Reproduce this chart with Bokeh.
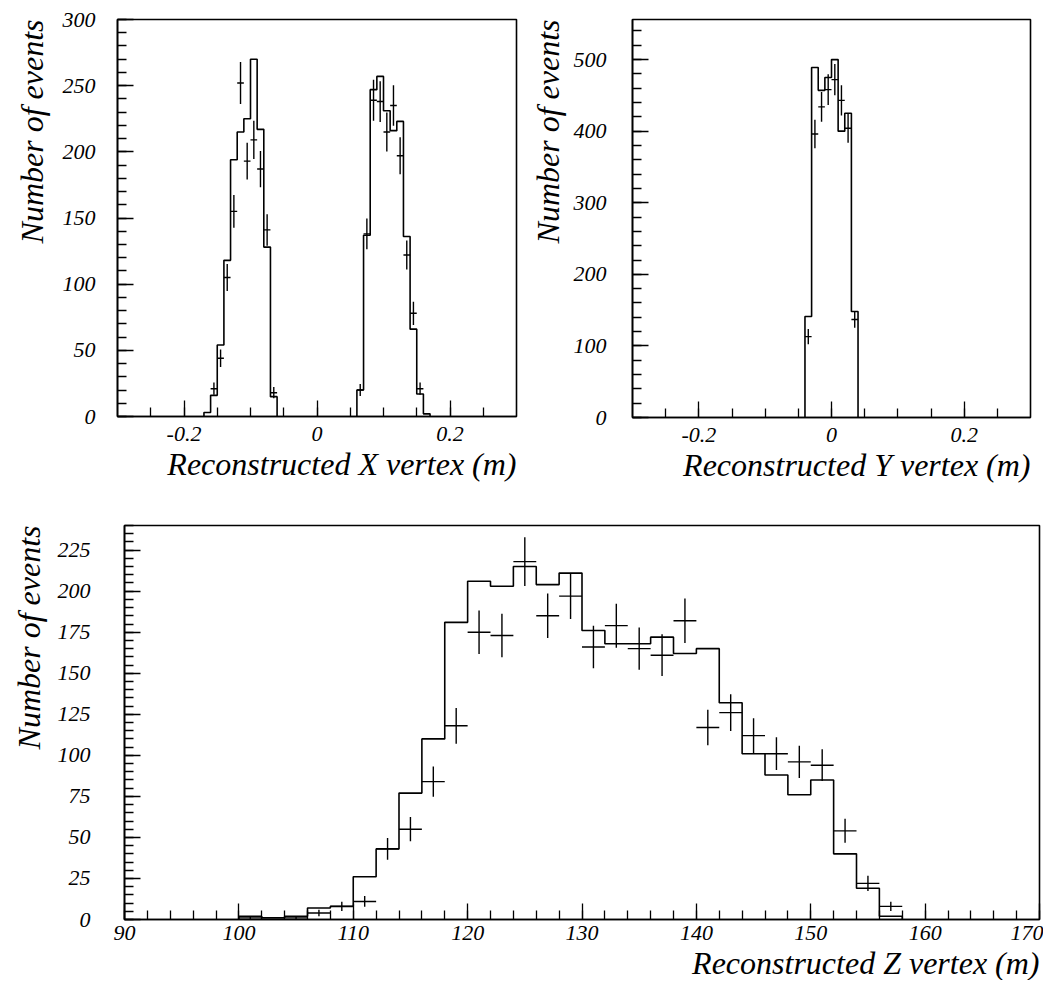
from bokeh.plotting import figure
from bokeh.layouts import column, row
from bokeh.models import SingleIntervalTicker, Title, Range1d
from bokeh.embed import file_html
from bokeh.resources import INLINE
import numpy as np

FONT = "Liberation Serif"

# ---------------- data: reconstructed X vertex (bin width 0.01 m) ----------------
x_left_centers = [-0.165, -0.155, -0.145, -0.135, -0.125, -0.115, -0.105, -0.095, -0.085, -0.075, -0.065]
x_left_mc      = [3, 16, 54, 118, 194, 215, 225, 270, 217, 128, 15]
x_left_data    = [0, 21, 44, 105, 155, 252, 193, 209, 187, 141, 18]
x_left_err     = [0, 4.6, 6.6, 10.2, 12.4, 15.9, 13.9, 14.5, 13.7, 11.9, 4.2]

x_right_centers = [0.065, 0.075, 0.085, 0.095, 0.105, 0.115, 0.125, 0.135, 0.145, 0.155, 0.165]
x_right_mc      = [20, 137, 247, 257, 231, 216, 223, 136, 66, 17, 2]
x_right_data    = [20, 138, 239, 238, 215, 235, 197, 122, 78, 21, 0]
x_right_err     = [4.5, 11.7, 15.5, 15.4, 14.7, 15.3, 14.0, 11.0, 8.8, 4.6, 0]

# ---------------- data: reconstructed Y vertex (bin width 0.01 m) ----------------
y_centers = [-0.035, -0.025, -0.015, -0.005, 0.005, 0.015, 0.025, 0.035]
y_mc      = [141, 489, 457, 475, 500, 400, 425, 148]
y_data    = [113, 396, 434, 458, 472, 443, 404, 137]
y_err     = [10.6, 19.9, 20.8, 21.4, 21.7, 21.0, 20.1, 11.7]

# ---------------- data: reconstructed Z vertex (bin width 2 m) ----------------
z_centers = [101, 103, 105, 107, 109, 111, 113, 115, 117, 119, 121, 123, 125, 127, 129,
             131, 133, 135, 137, 139, 141, 143, 145, 147, 149, 151, 153, 155, 157]
z_mc   = [2, 1, 2, 7, 8, 26, 43, 77, 110, 181, 206, 203, 215, 204, 211,
          176, 168, 168, 172, 162, 165, 132, 101, 88, 76, 85, 40, 19, 2]
z_data = [1, 0, 1, 4, 8, 11, 43, 55, 84, 118, 175, 173, 218, 185, 197,
          166, 179, 165, 161, 182, 117, 126, 112, 101, 96, 94, 54, 22, 8]
z_err  = [1, 0, 1, 2, 2.8, 3.3, 6.6, 7.4, 9.2, 10.9, 13.2, 13.2, 14.8, 13.6, 14.0,
          12.9, 13.4, 12.8, 12.7, 13.5, 10.8, 11.2, 10.6, 10.0, 9.8, 9.7, 7.3, 4.7, 2.8]

TICK_FS = "22px"
TITLE_FS = "32px"


def hist_step(p, centers, counts, width):
    c = np.asarray(centers, dtype=float)
    n = np.asarray(counts, dtype=float)
    edges = np.concatenate([c - width / 2.0, [c[-1] + width / 2.0]])
    xs = np.concatenate([[edges[0]], edges])
    ys = np.concatenate([[0.0], n, [0.0]])
    p.step(xs, ys, mode="after", line_color="black", line_width=1.6)


def crosses(p, centers, vals, errs, width):
    c = np.asarray(centers, dtype=float)
    v = np.asarray(vals, dtype=float)
    e = np.asarray(errs, dtype=float)
    m = v > 0
    c, v, e = c[m], v[m], e[m]
    p.segment(c, v - e, c, v + e, line_color="black", line_width=1.4)
    p.segment(c - width / 2.0, v, c + width / 2.0, v, line_color="black", line_width=1.4)


def make_fig(xr, yr, fw, fh, bl, bt, bb, xtick, ytick, xtitle,
             ylab_standoff, ytitle_standoff, xlab_standoff, xtitle_standoff, xoverrides=None):
    p = figure(frame_width=fw, frame_height=fh, x_range=Range1d(*xr), y_range=Range1d(*yr),
               output_backend="svg", toolbar_location=None,
               min_border_left=bl, min_border_top=bt, min_border_right=4, min_border_bottom=bb)
    p.background_fill_color = "white"
    p.border_fill_color = "white"
    p.outline_line_color = "black"
    p.outline_line_width = 1.6
    p.xgrid.visible = False
    p.ygrid.visible = False
    p.xaxis.ticker = xtick
    p.yaxis.ticker = ytick
    for ax in (p.xaxis, p.yaxis):
        ax.axis_line_color = "black"
        ax.axis_line_width = 1.6
        ax.major_tick_in = 16
        ax.major_tick_out = 0
        ax.minor_tick_in = 9
        ax.minor_tick_out = 0
        ax.major_tick_line_width = 1.3
        ax.minor_tick_line_width = 1.3
        ax.major_label_text_font = FONT
        ax.major_label_text_font_style = "italic"
        ax.major_label_text_font_size = TICK_FS
        ax.major_label_text_color = "black"
    p.xaxis.major_label_standoff = xlab_standoff
    p.yaxis.major_label_standoff = ylab_standoff
    if xoverrides:
        p.xaxis.major_label_overrides = xoverrides
    p.add_layout(Title(text=xtitle, align="right", text_font=FONT, text_font_size=TITLE_FS,
                       text_font_style="italic", text_color="black",
                       standoff=xtitle_standoff, offset=0), "below")
    p.add_layout(Title(text="Number of events", align="right", text_font=FONT,
                       text_font_size=TITLE_FS, text_font_style="italic", text_color="black",
                       standoff=ytitle_standoff, offset=0), "left")
    return p


xo = {-0.2: "-0.2", 0: "0", 0.2: "0.2"}

p1 = make_fig((-0.3, 0.3), (0, 300), 399, 397, 117, 19, 74,
              SingleIntervalTicker(interval=0.2, num_minor_ticks=4),
              SingleIntervalTicker(interval=50, num_minor_ticks=5),
              "Reconstructed X vertex (m)", 22, 20, 10, 0, xo)
hist_step(p1, x_left_centers, x_left_mc, 0.01)
hist_step(p1, x_right_centers, x_right_mc, 0.01)
crosses(p1, x_left_centers, x_left_data, x_left_err, 0.01)
crosses(p1, x_right_centers, x_right_data, x_right_err, 0.01)

p2 = make_fig((-0.3, 0.3), (0, 556), 398, 398, 112, 15, 77,
              SingleIntervalTicker(interval=0.2, num_minor_ticks=4),
              SingleIntervalTicker(interval=100, num_minor_ticks=5),
              "Reconstructed Y vertex (m)", 26, 10, 10, 0, xo)
hist_step(p2, y_centers, y_mc, 0.01)
crosses(p2, y_centers, y_data, y_err, 0.01)

p3 = make_fig((90, 170), (0, 240), 915, 394, 117, 35, 0,
              SingleIntervalTicker(interval=10, num_minor_ticks=5),
              SingleIntervalTicker(interval=25, num_minor_ticks=5),
              "Reconstructed Z vertex (m)", 34, 16, 6, 0)
hist_step(p3, z_centers, z_mc, 2)
crosses(p3, z_centers, z_data, z_err, 2)

layout = column(row(p1, p2), p3)
open("out.html", "w").write(file_html(layout, INLINE))
